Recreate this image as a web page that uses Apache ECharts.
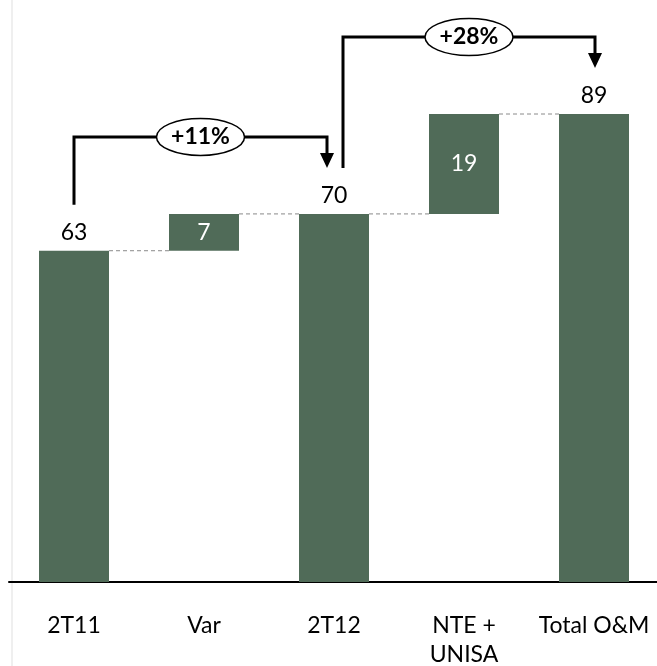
<!DOCTYPE html>
<html>
<head>
<meta charset="utf-8">
<script src="https://cdn.jsdelivr.net/npm/echarts@6/dist/echarts.min.js"></script>
<style>
  html, body { margin: 0; padding: 0; background: #fff; }
  #chart { width: 657px; height: 666px; }
</style>
</head>
<body>
<div id="chart"></div>
<script>
// O&M cost bridge: 2T11 -> 2T12 -> Total O&M
const categories = ['2T11', 'Var', '2T12', 'NTE +\nUNISA', 'Total O&M'];
const barBase = [0, 63, 0, 70, 0];      // invisible offset under floating bars
const barValue = [63, 7, 70, 19, 89];   // visible bar heights
const isTotal = [true, false, true, false, true];

// growth brackets between totals
const bracketFrom = [0, 2];
const bracketTo = [2, 4];
const bracketText = ['+11%', '+28%'];

const GREEN = '#506b58';
const FONT = 'Lato, "Noto Sans", sans-serif';
const BAR_W = 70;
// horizontal nudges (px) of the bracket ends, so the two brackets don't collide at 2T12
const bracketShift = [[0, -7], [9, 1]];

const chart = echarts.init(document.getElementById('chart'));

const connectorData = [];
for (let i = 0; i < categories.length - 1; i++) {
  connectorData.push([i, barBase[i] + barValue[i]]);
}
const bracketData = bracketFrom.map((f, k) => [f, bracketTo[k], barBase[f] + barValue[f], barBase[bracketTo[k]] + barValue[bracketTo[k]], k]);

chart.setOption({
  animation: false,
  backgroundColor: '#fff',
  // thin frame edge on the left
  graphic: [{
    type: 'line', silent: true, z: -1,
    shape: { x1: 12, y1: 0, x2: 12, y2: 666 },
    style: { stroke: '#efefef', lineWidth: 2 }
  }],
  grid: { left: 9, right: -2, top: 114, bottom: 84, outerBoundsMode: 'none', containLabel: false },
  xAxis: {
    type: 'category',
    data: categories,
    axisLine: { show: true, lineStyle: { color: '#000', width: 2 } },
    axisTick: { show: false },
    axisLabel: { color: '#000', fontFamily: FONT, fontSize: 23, margin: 29, lineHeight: 29, interval: 0 }
  },
  yAxis: {
    type: 'value', min: 0, max: 89,
    axisLine: { show: false },
    splitLine: { show: false }, axisLabel: { show: false }, axisTick: { show: false }
  },
  series: [
    {
      type: 'bar', stack: 'w', barWidth: BAR_W, silent: true,
      itemStyle: { color: 'transparent' },
      data: barBase
    },
    {
      type: 'bar', stack: 'w', barWidth: BAR_W,
      itemStyle: { color: GREEN },
      data: barValue.map((v, i) => ({
        value: v,
        label: isTotal[i]
          ? { show: true, position: 'top', distance: 7, color: '#000' }
          : { show: true, position: 'inside', color: '#fff' }
      })),
      label: { fontFamily: FONT, fontSize: 23 }
    },
    {
      // dashed step connectors between neighbouring bars
      type: 'custom', silent: true, z: 1,
      data: connectorData,
      renderItem: function (params, api) {
        const a = api.coord([api.value(0), api.value(1)]);
        const b = api.coord([api.value(0) + 1, api.value(1)]);
        return {
          type: 'line',
          shape: { x1: a[0] + BAR_W / 2, y1: a[1], x2: b[0] - BAR_W / 2, y2: b[1] },
          style: { stroke: '#8a8a8a', lineWidth: 1, lineDash: [4, 3] }
        };
      }
    },
    {
      // growth brackets with arrow and percentage bubble
      type: 'custom', silent: true, clip: false, z: 5,
      data: bracketData,
      renderItem: function (params, api) {
        const k = api.value(4);
        const p0 = api.coord([api.value(0), api.value(2)]);
        const p1 = api.coord([api.value(1), api.value(3)]);
        const x0 = p0[0] + bracketShift[k][0];
        const x1 = p1[0] + bracketShift[k][1];
        const yStart = p0[1] - 46;
        const yLevel = p1[1] - 77;
        const yTip = p1[1] - 46;
        const head = 15;
        const cx = (x0 + x1) / 2;
        return {
          type: 'group',
          children: [
            {
              type: 'polyline',
              shape: { points: [[x0, yStart], [x0, yLevel], [x1, yLevel], [x1, yTip - head]] },
              style: { stroke: '#000', lineWidth: 3, fill: null }
            },
            {
              type: 'polygon',
              shape: { points: [[x1 - 7, yTip - head], [x1 + 7, yTip - head], [x1, yTip]] },
              style: { fill: '#000' }
            },
            {
              type: 'ellipse',
              shape: { cx: cx, cy: yLevel, rx: 44, ry: 18.5 },
              style: { fill: '#fff', stroke: '#000', lineWidth: 1.5 }
            },
            {
              type: 'text',
              x: cx, y: yLevel,
              style: {
                text: bracketText[k], fill: '#000', fontFamily: FONT, fontWeight: 'bold',
                fontSize: 23, align: 'center', verticalAlign: 'middle'
              }
            }
          ]
        };
      }
    }
  ]
});
</script>
</body>
</html>
